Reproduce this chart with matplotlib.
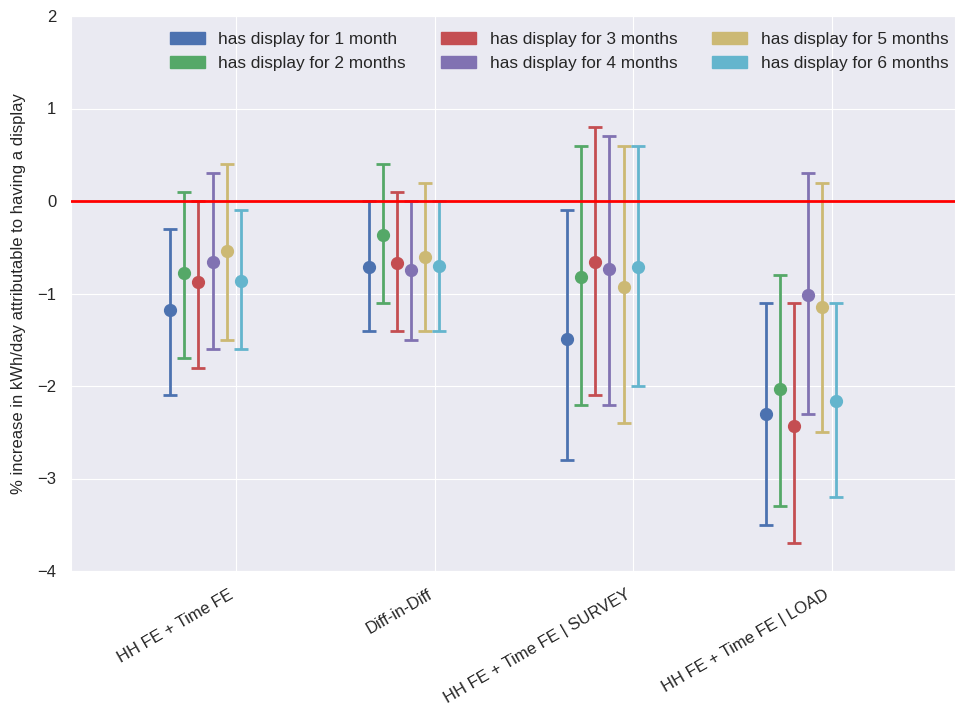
import numpy as np
import matplotlib
matplotlib.use("Agg")
import matplotlib.pyplot as plt
import seaborn as sns

sns.set_style("darkgrid")
plt.rcParams["font.family"] = ["Liberation Sans", "DejaVu Sans"]

models = ["HH FE + Time FE", "Diff-in-Diff", "HH FE + Time FE | SURVEY", "HH FE + Time FE | LOAD"]
series_labels = ["has display for 1 month", "has display for 2 months", "has display for 3 months",
                 "has display for 4 months", "has display for 5 months", "has display for 6 months"]

# point estimates per model, one list per exposure length
est_1m = [-1.18, -0.71, -1.49, -2.30]
est_2m = [-0.78, -0.37, -0.82, -2.03]
est_3m = [-0.88, -0.67, -0.66, -2.43]
est_4m = [-0.66, -0.75, -0.74, -1.02]
est_5m = [-0.54, -0.60, -0.93, -1.15]
est_6m = [-0.86, -0.70, -0.71, -2.16]

# lower confidence bounds
lo_1m = [-2.1, -1.4, -2.8, -3.5]
lo_2m = [-1.7, -1.1, -2.2, -3.3]
lo_3m = [-1.8, -1.4, -2.1, -3.7]
lo_4m = [-1.6, -1.5, -2.2, -2.3]
lo_5m = [-1.5, -1.4, -2.4, -2.5]
lo_6m = [-1.6, -1.4, -2.0, -3.2]

# upper confidence bounds
hi_1m = [-0.3, 0.0, -0.1, -1.1]
hi_2m = [0.1, 0.4, 0.6, -0.8]
hi_3m = [0.0, 0.1, 0.8, -1.1]
hi_4m = [0.3, 0.0, 0.7, 0.3]
hi_5m = [0.4, 0.2, 0.6, 0.2]
hi_6m = [-0.1, 0.0, 0.6, -1.1]

estimates = [est_1m, est_2m, est_3m, est_4m, est_5m, est_6m]
lowers = [lo_1m, lo_2m, lo_3m, lo_4m, lo_5m, lo_6m]
uppers = [hi_1m, hi_2m, hi_3m, hi_4m, hi_5m, hi_6m]

colors = ["#4C72B0", "#55A868", "#C44E52", "#8172B2", "#CCB974", "#64B5CD"]

fig = plt.figure(figsize=(9.55, 7.11), dpi=100)
ax = fig.add_axes([71 / 955, 140 / 711, 1 - 71 / 955, (571 - 16) / 711])

step = 0.0712
base = np.arange(len(models))
handles = []
for j, (est, lo, hi, c, lab) in enumerate(zip(estimates, lowers, uppers, colors, series_labels)):
    est = np.array(est)
    yerr = np.vstack([est - np.array(lo), np.array(hi) - est])
    x = base + j * step
    ax.errorbar(x, est, yerr=yerr, fmt="o", color=c, ecolor=c, markersize=8.5,
                elinewidth=2, capsize=5, capthick=2, zorder=3)
    handles.append(matplotlib.patches.Patch(color=c, label=lab))

ax.axhline(0, color="red", linewidth=2, zorder=4)

ax.set_xlim(-0.5, 3.955)
ax.set_ylim(-4, 2)
ax.set_yticks(np.arange(-4, 3, 1))
ax.set_xticks(base + 0.333)
ax.set_xticklabels(models, rotation=30, ha="right", fontsize=12)
ax.tick_params(axis="x", pad=8)
ax.tick_params(axis="y", labelsize=12, pad=7)
ax.set_ylabel("% increase in kWh/day attributable to having a display", fontsize=12, labelpad=8)

ax.legend(handles=handles, ncol=3, loc="upper right", fontsize=12.4, frameon=False,
          bbox_to_anchor=(1.009, 0.998), borderaxespad=0.45, columnspacing=2.05,
          handlelength=2.0, labelspacing=0.55)

fig.savefig("out.png", dpi=100)
